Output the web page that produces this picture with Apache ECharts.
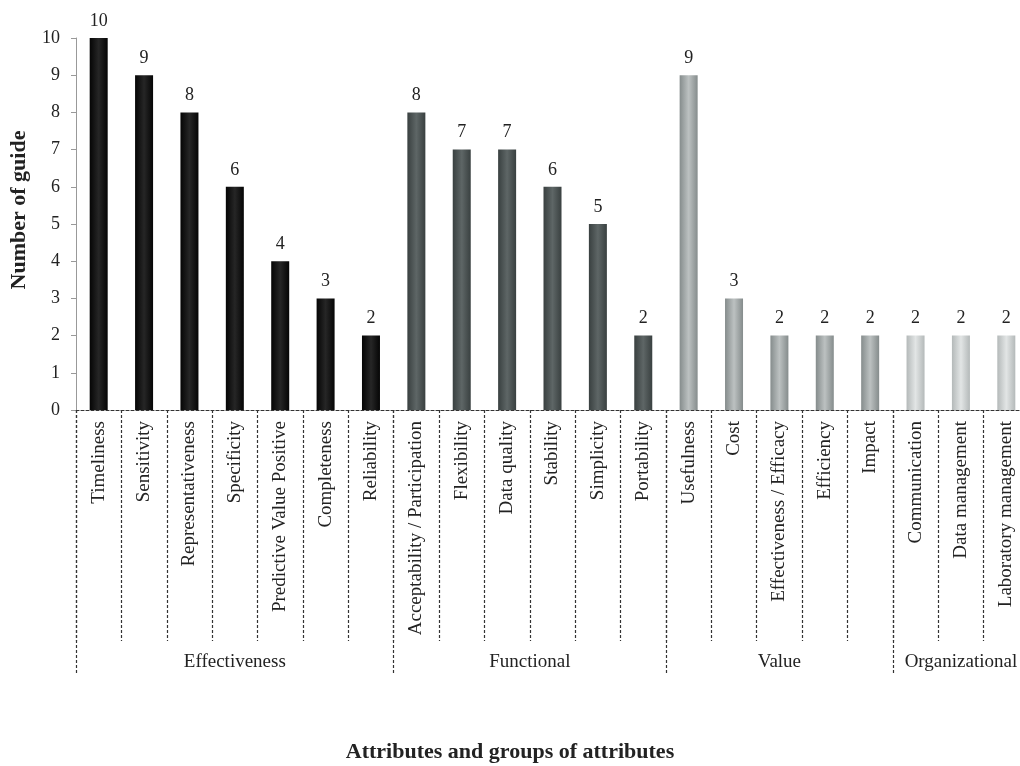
<!DOCTYPE html>
<html>
<head>
<meta charset="utf-8">
<script src="https://cdn.jsdelivr.net/npm/echarts@6/dist/echarts.min.js"></script>
<style>
  html, body { margin: 0; padding: 0; background: #fff; }
  #chart { width: 1020px; height: 766px; }
</style>
</head>
<body>
<div id="chart"></div>
<script>
// Attributes, grouped in order
const categories = [
  'Timeliness', 'Sensitivity', 'Representativeness', 'Specificity',
  'Predictive Value Positive', 'Completeness', 'Reliability',
  'Acceptability / Participation', 'Flexibility', 'Data quality',
  'Stability', 'Simplicity', 'Portability',
  'Usefulness', 'Cost', 'Effectiveness / Efficacy', 'Efficiency', 'Impact',
  'Communication', 'Data management', 'Laboratory management'
];
// Number of guides mentioning each attribute
const values = [10, 9, 8, 6, 4, 3, 2, 8, 7, 7, 6, 5, 2, 9, 3, 2, 2, 2, 2, 2, 2];
// Attribute groups and how many attributes each holds
const groups = ['Effectiveness', 'Functional', 'Value', 'Organizational'];
const groupSizes = [7, 6, 5, 3];
// Y axis ticks
const yTicks = [0, 1, 2, 3, 4, 5, 6, 7, 8, 9, 10];

const SERIF = '"Liberation Serif", "DejaVu Serif", "Times New Roman", serif';

// bar shading per group: [edge, centre]
const shades = [
  ['#050505', '#262626'],
  ['#394040', '#5e6666'],
  ['#858c8c', '#bcc1c1'],
  ['#b4b9b9', '#e2e5e5']
];

// group boundaries and centres along the category band
const bounds = [0];
groupSizes.forEach(s => bounds.push(bounds[bounds.length - 1] + s));
const centres = groupSizes.map((s, i) => bounds[i] + s / 2);

const groupOf = [];
groupSizes.forEach((s, g) => { for (let i = 0; i < s; i++) groupOf.push(g); });

const barData = values.map((v, i) => {
  const [edge, mid] = shades[groupOf[i]];
  return {
    value: v,
    itemStyle: {
      color: new echarts.graphic.LinearGradient(0, 0, 1, 0, [
        { offset: 0, color: edge },
        { offset: 0.5, color: mid },
        { offset: 1, color: edge }
      ])
    }
  };
});

const dash = { type: [3, 2], width: 1.2, color: '#333' };

const chart = echarts.init(document.getElementById('chart'), null, { renderer: 'canvas' });
chart.setOption({
  backgroundColor: '#fff',
  animation: false,
  title: {
    text: 'Attributes and groups of attributes',
    left: 'center',
    top: 736,
    textStyle: { fontFamily: SERIF, fontWeight: 'bold', fontSize: 22, color: '#222' }
  },
  grid: {
    left: 76, top: 38, width: 953, height: 372,
    containLabel: false, outerBoundsMode: 'none'
  },
  xAxis: [
    {
      type: 'category',
      data: categories,
      axisLine: { show: true, lineStyle: dash },
      axisTick: { show: true, interval: 0, length: 231, lineStyle: dash },
      axisLabel: {
        interval: 0, rotate: 90, margin: 11,
        fontFamily: SERIF, fontSize: 19, color: '#222'
      },
      splitLine: { show: false }
    },
    {
      type: 'value',
      position: 'bottom',
      min: 0,
      max: categories.length,
      axisLine: { show: false },
      splitLine: { show: false },
      axisTick: { show: true, customValues: bounds, length: 265, lineStyle: dash },
      axisLabel: {
        customValues: centres,
        margin: 243,
        formatter: v => groups[centres.indexOf(v)] || '',
        fontFamily: SERIF, fontSize: 19, color: '#222'
      }
    }
  ],
  yAxis: {
    type: 'value',
    min: yTicks[0],
    max: yTicks[yTicks.length - 1],
    interval: 1,
    name: 'Number of guide',
    nameLocation: 'middle',
    nameGap: 46,
    nameTextStyle: {
      fontFamily: SERIF, fontWeight: 'bold', fontSize: 22, color: '#222',
      padding: [0, 0, 0, 28]
    },
    axisLine: { show: true, lineStyle: { color: '#999', width: 1 } },
    axisTick: { show: true, length: 5, lineStyle: { color: '#999' } },
    axisLabel: { margin: 16, fontFamily: SERIF, fontSize: 18, color: '#222' },
    splitLine: { show: false }
  },
  series: [{
    type: 'bar',
    xAxisIndex: 0,
    data: barData,
    barWidth: 18,
    label: {
      show: true, position: 'top', distance: 8,
      fontFamily: SERIF, fontSize: 18, color: '#222'
    }
  }]
});
</script>
</body>
</html>
